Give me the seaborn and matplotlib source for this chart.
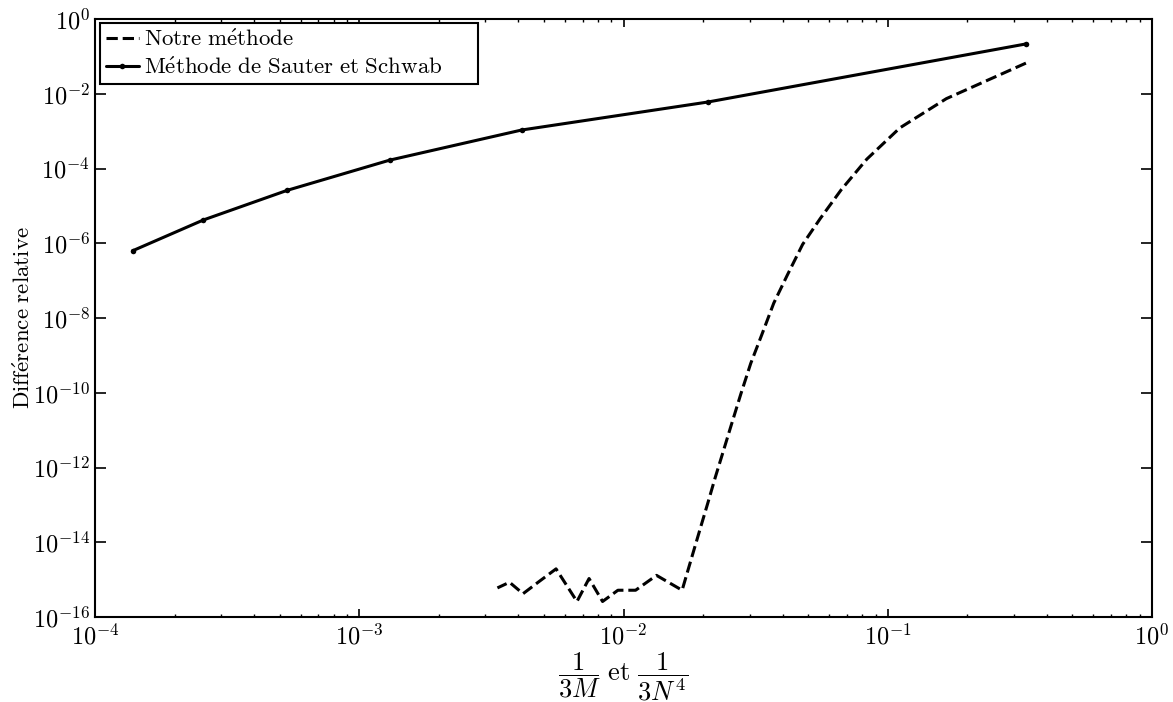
import numpy as np
import pandas as pd
import matplotlib
matplotlib.use("Agg")
import matplotlib.pyplot as plt
import seaborn as sns
from matplotlib.ticker import LogLocator, NullLocator, FixedLocator

# ---------------- data ----------------
# "Notre méthode": x = 1/(3M)
M_notre = [1, 2, 3, 4, 5, 6, 7, 8, 9, 10, 11, 12, 13, 14, 15, 16, 17, 18, 19, 20,
           25, 30, 35, 40, 45, 50, 60, 70, 80, 90, 100]
err_notre = [6.6e-2, 7.4e-3, 1.22e-3, 1.78e-4, 2.7e-5, 4.6e-6, 9.3e-7, 1.4e-7,
             2.5e-8, 3.5e-9, 6.1e-10, 9.1e-11, 1.45e-11, 2.6e-12, 5.3e-13,
             1.1e-13, 2.6e-14, 6.6e-15, 1.8e-15, 5.2e-16,
             1.3e-15, 5.2e-16, 5.2e-16, 2.6e-16, 1.07e-15, 2.6e-16, 1.94e-15,
             8.6e-16, 4.2e-16, 8.5e-16, 6.0e-16]

# "Méthode de Sauter et Schwab": x = 1/(3N^4)
N_ss = [1, 2, 3, 4, 5, 6, 7]
err_ss = [0.215, 6.0e-3, 1.07e-3, 1.67e-4, 2.6e-5, 4.2e-6, 6.3e-7]

label_notre = r"$\mathrm{Notre\ m\acute{e}thode}$"
label_ss = r"$\mathrm{M\acute{e}thode\ de\ Sauter\ et\ Schwab}$"
ylabel = r"$\mathrm{Diff\acute{e}rence\ relative}$"
xlabel = r"$\dfrac{1}{3M}\ \mathrm{et}\ \dfrac{1}{3N^4}$"

df_notre = pd.DataFrame({"x": 1.0 / (3.0 * np.array(M_notre, float)), "y": err_notre})
df_ss = pd.DataFrame({"x": 1.0 / (3.0 * np.array(N_ss, float) ** 4), "y": err_ss})

# ---------------- style ----------------
sns.set_style("ticks")
plt.rcParams.update({
    "font.family": "serif",
    "font.serif": ["cmr10"],
    "mathtext.fontset": "cm",
    "axes.formatter.use_mathtext": True,
    "font.size": 16.5,
    "axes.linewidth": 1.5,
    "axes.edgecolor": "black",
    "xtick.direction": "in",
    "ytick.direction": "in",
    "xtick.top": True,
    "ytick.right": True,
    "xtick.color": "black",
    "ytick.color": "black",
    "text.color": "black",
    "axes.labelcolor": "black",
})

fig = plt.figure(figsize=(11.73, 7.02), dpi=100)
ax = fig.add_axes([95 / 1173, (702 - 617) / 702, (1152 - 95) / 1173, (617 - 19) / 702])

sns.lineplot(data=df_notre, x="x", y="y", ax=ax, color="black", linewidth=2.2,
             linestyle="--", sort=False, estimator=None, label=label_notre)
sns.lineplot(data=df_ss, x="x", y="y", ax=ax, color="black", linewidth=2.2,
             marker="o", markersize=4, markeredgewidth=0, sort=False,
             estimator=None, label=label_ss)

ax.set_xscale("log")
ax.set_yscale("log")
ax.set_xlim(1e-4, 1e0)
ax.set_ylim(1e-16, 1e0)

ax.yaxis.set_major_locator(FixedLocator([10.0 ** k for k in range(-16, 1, 2)]))
ax.yaxis.set_minor_locator(NullLocator())
ax.xaxis.set_major_locator(LogLocator(base=10, numticks=10))
ax.xaxis.set_minor_locator(LogLocator(base=10, subs=np.arange(2, 10), numticks=40))

ax.tick_params(axis="x", which="major", length=5.5, width=1.2, labelsize=17.5, pad=5)
ax.tick_params(axis="x", which="minor", length=2.5, width=1.0)
ax.tick_params(axis="y", which="major", length=8, width=1.2, labelsize=17.5, pad=3.5)

for s in ax.spines.values():
    s.set_visible(True)
    s.set_linewidth(1.5)
    s.set_color("black")

ax.set_xlabel(xlabel, fontsize=19, labelpad=0)
ax.set_ylabel(ylabel, fontsize=16.5, labelpad=-1)

# legend box: x 100..478 px, top at 23 px (axes spans 95..1152 x 19..617)
leg_w = (478 - 100) / 1057
leg = ax.legend(loc="upper left", bbox_to_anchor=(5 / 1057, 0.5, leg_w, 0.5 - 4 / 598),
                mode="expand", borderaxespad=0, fancybox=False, framealpha=1,
                edgecolor="black", fontsize=16.5, handlelength=1.45,
                handletextpad=0.2, borderpad=0.25, labelspacing=0.3)
leg.get_frame().set_linewidth(1.5)

fig.savefig("out.png", dpi=100)
